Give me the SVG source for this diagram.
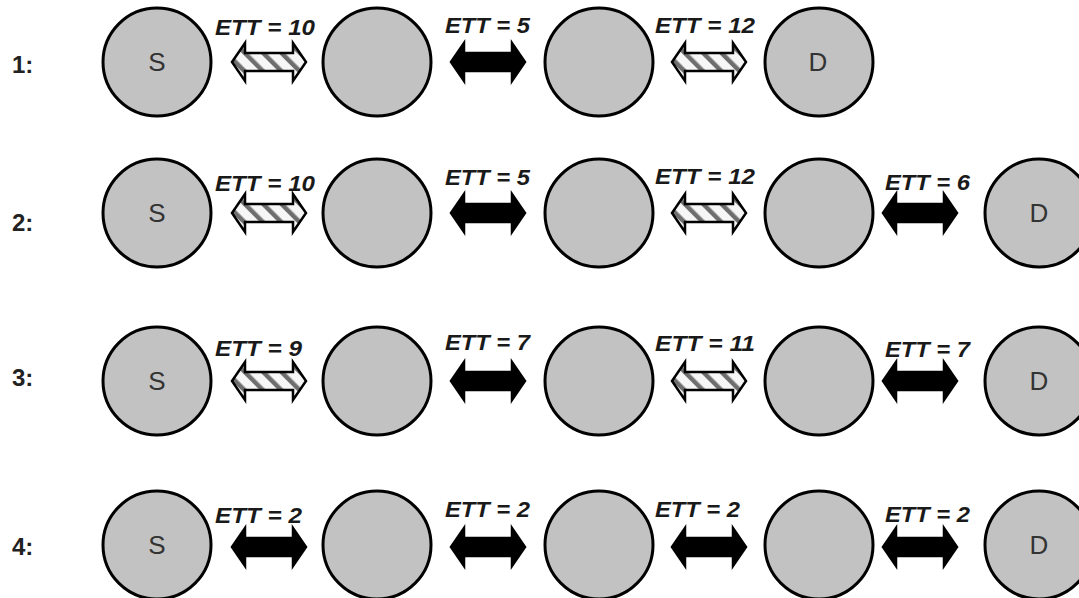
<svg xmlns="http://www.w3.org/2000/svg" width="1079" height="598" viewBox="0 0 1079 598">
  <style>
    .node circle { fill: #c2c2c2; stroke: #000; stroke-width: 3; }
    .nl { font-family: "Liberation Sans", Arial, sans-serif; font-size: 26px; fill: #333; text-anchor: middle; }
    .rl { font-family: "Liberation Sans", Arial, sans-serif; font-size: 24px; font-weight: bold; fill: #222; }
    .el { font-family: "Liberation Sans", Arial, sans-serif; font-size: 22px; font-weight: bold; font-style: italic; fill: #1a1a1a; }
    .solid { fill: #000; stroke: #000; stroke-width: 2.5; stroke-linejoin: miter; }
    .hatch { fill: url(#stripes); stroke: #000; stroke-width: 2.5; stroke-linejoin: miter; }
  </style>
  <defs>
    <pattern id="stripes" patternUnits="userSpaceOnUse" width="13" height="13" patternTransform="rotate(-45)">
      <rect x="0" y="0" width="13" height="13" fill="#f6f6f6"/>
      <rect x="0" y="0" width="4.5" height="13" fill="#6e6e6e"/>
    </pattern>
    <polygon id="arrow" points="-37,0 -24,-19 -24,-9 24,-9 24,-19 37,0 24,19 24,9 -24,9 -24,19"/>
  </defs>
  <rect width="1079" height="598" fill="#fff"/>

  <g id="row-labels">
    <text class="rl" x="12" y="73">1:</text>
    <text class="rl" x="12" y="231">2:</text>
    <text class="rl" x="12" y="386">3:</text>
    <text class="rl" x="12" y="555">4:</text>
  </g>

  <g id="connectors">
    <!-- Row 1 -->
    <g id="e1-1"><use href="#arrow" class="hatch" transform="translate(269,62)"/><text class="el" x="215" y="35" textLength="100" lengthAdjust="spacingAndGlyphs">ETT = 10</text></g>
    <g id="e1-2"><use href="#arrow" class="solid" transform="translate(488,62)"/><text class="el" x="445" y="33" textLength="85" lengthAdjust="spacingAndGlyphs">ETT = 5</text></g>
    <g id="e1-3"><use href="#arrow" class="hatch" transform="translate(709,62)"/><text class="el" x="655" y="33" textLength="100" lengthAdjust="spacingAndGlyphs">ETT = 12</text></g>
    <!-- Row 2 -->
    <g id="e2-1"><use href="#arrow" class="hatch" transform="translate(269,213)"/><text class="el" x="215" y="191" textLength="100" lengthAdjust="spacingAndGlyphs">ETT = 10</text></g>
    <g id="e2-2"><use href="#arrow" class="solid" transform="translate(488,213)"/><text class="el" x="445" y="185" textLength="85" lengthAdjust="spacingAndGlyphs">ETT = 5</text></g>
    <g id="e2-3"><use href="#arrow" class="hatch" transform="translate(709,213)"/><text class="el" x="655" y="184" textLength="100" lengthAdjust="spacingAndGlyphs">ETT = 12</text></g>
    <g id="e2-4"><use href="#arrow" class="solid" transform="translate(920,213)"/><text class="el" x="885" y="190" textLength="85" lengthAdjust="spacingAndGlyphs">ETT = 6</text></g>
    <!-- Row 3 -->
    <g id="e3-1"><use href="#arrow" class="hatch" transform="translate(269,381)"/><text class="el" x="215" y="356" textLength="87" lengthAdjust="spacingAndGlyphs">ETT = 9</text></g>
    <g id="e3-2"><use href="#arrow" class="solid" transform="translate(488,381)"/><text class="el" x="445" y="350" textLength="85" lengthAdjust="spacingAndGlyphs">ETT = 7</text></g>
    <g id="e3-3"><use href="#arrow" class="hatch" transform="translate(709,381)"/><text class="el" x="655" y="351" textLength="100" lengthAdjust="spacingAndGlyphs">ETT = 11</text></g>
    <g id="e3-4"><use href="#arrow" class="solid" transform="translate(920,381)"/><text class="el" x="885" y="357" textLength="85" lengthAdjust="spacingAndGlyphs">ETT = 7</text></g>
    <!-- Row 4 -->
    <g id="e4-1"><use href="#arrow" class="solid" transform="translate(269,547)"/><text class="el" x="215" y="523" textLength="87" lengthAdjust="spacingAndGlyphs">ETT = 2</text></g>
    <g id="e4-2"><use href="#arrow" class="solid" transform="translate(488,547)"/><text class="el" x="445" y="517" textLength="85" lengthAdjust="spacingAndGlyphs">ETT = 2</text></g>
    <g id="e4-3"><use href="#arrow" class="solid" transform="translate(709,547)"/><text class="el" x="655" y="517" textLength="85" lengthAdjust="spacingAndGlyphs">ETT = 2</text></g>
    <g id="e4-4"><use href="#arrow" class="solid" transform="translate(920,547)"/><text class="el" x="885" y="522" textLength="85" lengthAdjust="spacingAndGlyphs">ETT = 2</text></g>
  </g>

  <!-- Row 1 nodes -->
  <g id="n1-S" class="node"><circle cx="157" cy="62" r="54"/><text class="nl" x="157" y="71">S</text></g>
  <g id="n1-2" class="node"><circle cx="377" cy="62" r="54"/></g>
  <g id="n1-3" class="node"><circle cx="599" cy="62" r="54"/></g>
  <g id="n1-D" class="node"><circle cx="819" cy="62" r="54"/><text class="nl" x="818" y="71">D</text></g>
  <!-- Row 2 nodes -->
  <g id="n2-S" class="node"><circle cx="157" cy="213" r="54"/><text class="nl" x="157" y="222">S</text></g>
  <g id="n2-2" class="node"><circle cx="377" cy="213" r="54"/></g>
  <g id="n2-3" class="node"><circle cx="599" cy="213" r="54"/></g>
  <g id="n2-4" class="node"><circle cx="819" cy="213" r="54"/></g>
  <g id="n2-D" class="node"><circle cx="1039" cy="213" r="54"/><text class="nl" x="1039" y="222">D</text></g>
  <!-- Row 3 nodes -->
  <g id="n3-S" class="node"><circle cx="157" cy="381" r="54"/><text class="nl" x="157" y="390">S</text></g>
  <g id="n3-2" class="node"><circle cx="377" cy="381" r="54"/></g>
  <g id="n3-3" class="node"><circle cx="599" cy="381" r="54"/></g>
  <g id="n3-4" class="node"><circle cx="819" cy="381" r="54"/></g>
  <g id="n3-D" class="node"><circle cx="1039" cy="381" r="54"/><text class="nl" x="1039" y="390">D</text></g>
  <!-- Row 4 nodes -->
  <g id="n4-S" class="node"><circle cx="157" cy="545" r="54"/><text class="nl" x="157" y="554">S</text></g>
  <g id="n4-2" class="node"><circle cx="377" cy="545" r="54"/></g>
  <g id="n4-3" class="node"><circle cx="599" cy="545" r="54"/></g>
  <g id="n4-4" class="node"><circle cx="819" cy="545" r="54"/></g>
  <g id="n4-D" class="node"><circle cx="1039" cy="545" r="54"/><text class="nl" x="1039" y="554">D</text></g>
</svg>
